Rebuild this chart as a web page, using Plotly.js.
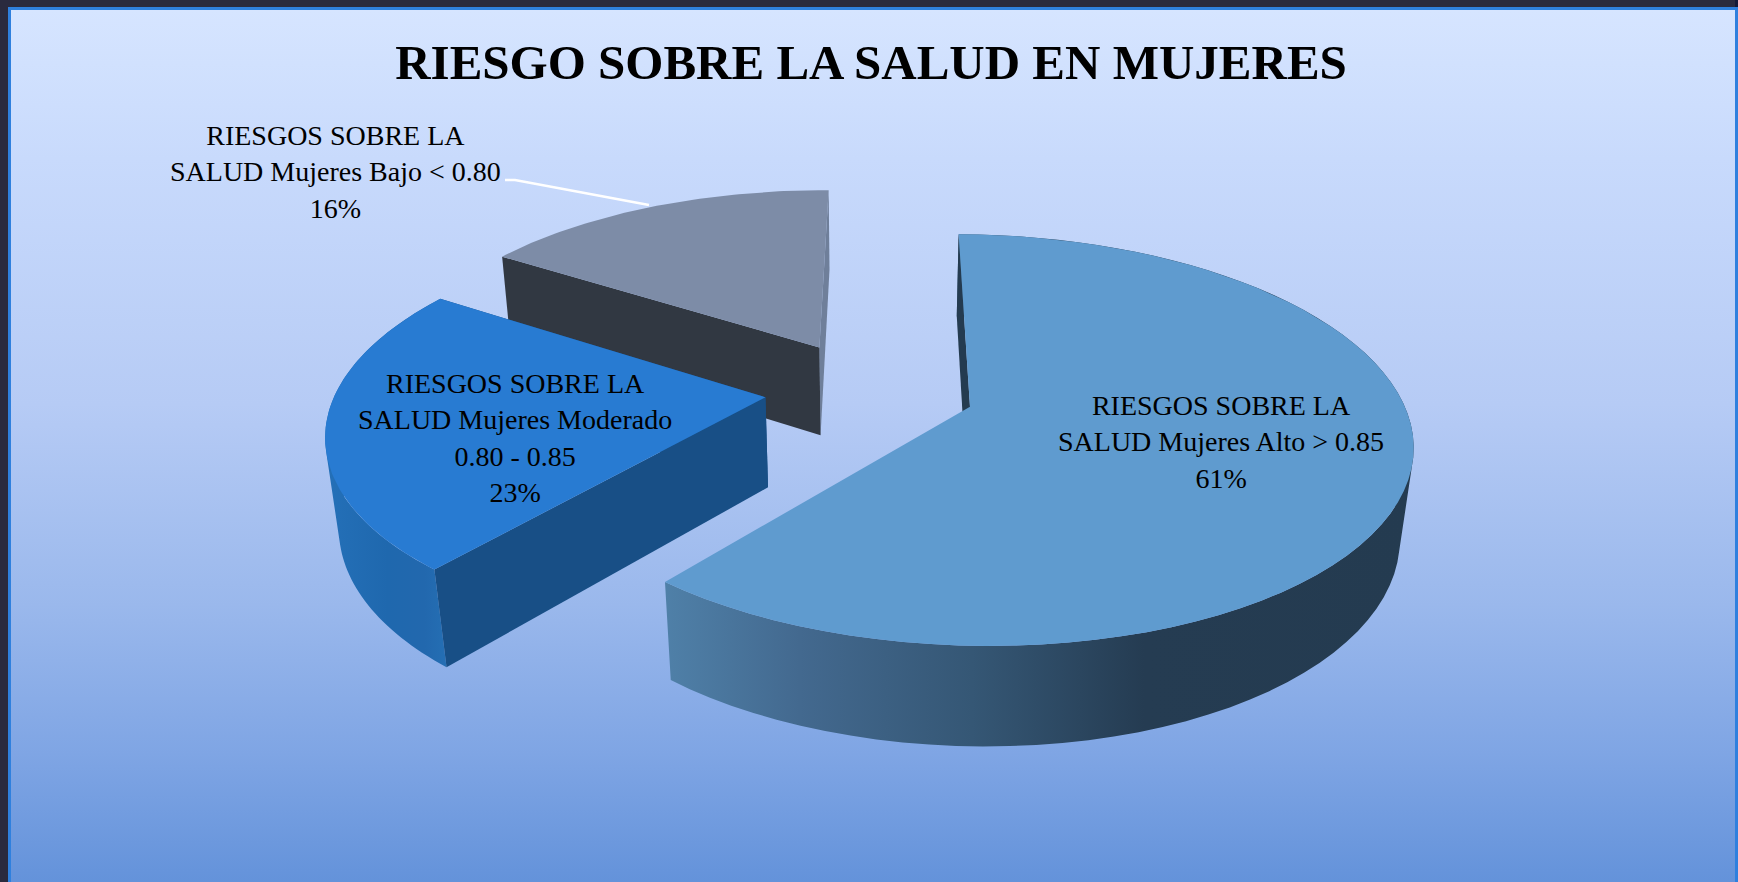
<!DOCTYPE html>
<html lang="es">
<head>
<meta charset="utf-8">
<title>RIESGO SOBRE LA SALUD EN MUJERES</title>
<script src="https://cdn.plot.ly/plotly-3.0.1.min.js"></script>
<style>
  html, body { margin: 0; padding: 0; width: 1738px; height: 882px; overflow: hidden; background: #2a2a3e; }
  #rightEdge { position: absolute; left: 1735px; top: 0; width: 3px; height: 882px; background: #141a38; }
  #panel { position: absolute; left: 8px; top: 7px; width: 1724px; height: 875px; border: 3px solid #2f80de; border-bottom: none; box-sizing: content-box;
    background: linear-gradient(to bottom, #d6e5ff 0%, #c8dafc 17%, #b6cbf5 45%, #9ab8ec 68%, #7fa5e4 85%, #6392da 100%); }
  #chart { position: absolute; left: 0; top: 0; width: 1738px; height: 882px; }
</style>
</head>
<body>
<div id="rightEdge"></div>
<div id="panel"></div>
<div id="chart"></div>
<script>
// ---- data ----
const chartTitle = "RIESGO SOBRE LA SALUD EN MUJERES";
const categories = [
  "RIESGOS SOBRE LA<br>SALUD Mujeres Alto > 0.85",
  "RIESGOS SOBRE LA<br>SALUD Mujeres Moderado<br>0.80 - 0.85",
  "RIESGOS SOBRE LA<br>SALUD Mujeres Bajo < 0.80"
];
const values = [61, 23, 16];

// ---- colours ----
const topColors = ["#5f9bcf", "#287bd2", "#7d8ca7"];
const startCutColors = ["#243b50", "#184f86", "#313842"];
const endCutColors = ["#243b50", "#184f86", "#6f7f9a"];
const bigWallStops = [[0, "#4f80a8"], [0.18, "#43698f"], [0.41, "#355775"], [0.64, "#253c52"], [1, "#243b50"]];
const midWallStops = [[0, "#2470b8"], [0.5, "#1f68ae"], [0.8, "#2268ae"], [1, "#2570b5"]];

// ---- view of the 3D pie ----
const view = { cx: 870, cy: 390, A: 429, B: 195, k: 0.16, q: 0.025, D: 92, first: 0.4 };
const explode = [0.245, 0.245, 0.257];

function project(u, v, bottom) {
  const inv = 1 - view.k * v + (bottom ? view.q : 0);
  const s = 1 / inv;
  return [view.cx + view.A * u * s, view.cy + (view.B * v + (bottom ? view.D : 0)) * s];
}

const total = values.reduce((a, b) => a + b, 0);
let cursor = view.first;
const slices = values.map((val, i) => {
  const a0 = cursor, a1 = cursor + val / total * 360;
  cursor = a1;
  const mid = (a0 + a1) / 2 * Math.PI / 180;
  return { a0, a1, ox: explode[i] * Math.sin(mid), oy: -explode[i] * Math.cos(mid) };
});

function rimPoint(sl, deg, bottom) {
  const t = deg * Math.PI / 180;
  return project(sl.ox + Math.sin(t), sl.oy - Math.cos(t), bottom);
}
function rim(sl, bottom) {
  const n = 72, out = [];
  for (let i = 0; i <= n; i++) out.push(rimPoint(sl, sl.a0 + (sl.a1 - sl.a0) * i / n, bottom));
  return out;
}
function apex(sl, bottom) { return project(sl.ox, sl.oy, bottom); }

function poly(points, name, color) {
  return {
    type: "scatter", mode: "lines", name,
    x: points.map(p => p[0]).concat(points[0][0]),
    y: points.map(p => p[1]).concat(points[0][1]),
    fill: "toself", fillcolor: color, line: { width: 0, color },
    hoverinfo: "name", showlegend: false
  };
}

// the outer wall is the sweep of the rim: one quad per rim step, all wound the same way
function wallTrace(top, bot, name, stops, start, stop) {
  const x = [], y = [];
  for (let j = 0; j < top.length - 1; j++) {
    let q = [top[j], top[j + 1], bot[j + 1], bot[j]];
    let area = 0;
    q.forEach((p, n) => { const r = q[(n + 1) % 4]; area += p[0] * r[1] - r[0] * p[1]; });
    if (area < 0) q = q.slice().reverse();
    q.concat([q[0]]).forEach(p => { x.push(p[0]); y.push(p[1]); });
    x.push(null); y.push(null);
  }
  return {
    type: "scatter", mode: "lines", name, x, y, connectgaps: false,
    fill: "toself", line: { width: 0, color: "rgba(0,0,0,0)" },
    fillgradient: { type: "horizontal", colorscale: stops, start, stop },
    hoverinfo: "name", showlegend: false
  };
}

function sliceTraces(i, wallStops) {
  const sl = slices[i], name = categories[i].replace(/<br>/g, " ");
  const top = rim(sl, false), bot = rim(sl, true);
  const out = [];
  const a0Top = rimPoint(sl, sl.a0, false), a0Bot = rimPoint(sl, sl.a0, true);
  const a1Top = rimPoint(sl, sl.a1, false), a1Bot = rimPoint(sl, sl.a1, true);
  // outer wall, then the two cut faces, then the top surface
  if (wallStops) {
    const xs = top.concat(bot).map(p => p[0]);
    out.push(wallTrace(top, bot, name, wallStops, Math.min(...xs),
      i === 0 ? Math.max(...xs) : Math.max(...bot.map(p => p[0]))));
  }
  if (i !== 0) out.push(poly([a1Top, apex(sl, false), apex(sl, true), a1Bot], name, endCutColors[i]));
  out.push(poly([a0Top, apex(sl, false), apex(sl, true), a0Bot], name, startCutColors[i]));
  out.push(poly([apex(sl, false)].concat(top), name, topColors[i]));
  return out;
}

// far slice first, nearest slice last
const traces = [].concat(
  sliceTraces(2, null),
  sliceTraces(1, midWallStops),
  sliceTraces(0, bigWallStops)
);

// leader line for the smallest slice
const leaderX = [505, 515, 649];
const leaderY = [180, 180, 205];
traces.push({ type: "scatter", mode: "lines", x: leaderX, y: leaderY, line: { color: "#ffffff", width: 2.5 }, hoverinfo: "skip", showlegend: false });

const pct = values.map(v => Math.round(v / total * 100) + "%");
const labelX = [1221, 515, 335];
const labelY = [442, 438, 172];
const annotations = categories.map((c, i) => ({
  xref: "x", yref: "y", x: labelX[i], y: labelY[i], text: c + "<br>" + pct[i],
  showarrow: false, align: "center", xanchor: "center", yanchor: "middle",
  font: { family: "'Liberation Serif', serif", size: 28, color: "#000000" }
}));

const layout = {
  width: 1738, height: 882,
  margin: { l: 0, r: 0, t: 0, b: 0 },
  paper_bgcolor: "rgba(0,0,0,0)", plot_bgcolor: "rgba(0,0,0,0)",
  title: { text: "<b>" + chartTitle + "</b>", x: 871 / 1738, xanchor: "center", y: 1 - 62 / 882, yanchor: "middle",
           font: { family: "'Liberation Serif', serif", size: 49, color: "#000000" } },
  xaxis: { visible: false, range: [0, 1738], fixedrange: true },
  yaxis: { visible: false, range: [882, 0], fixedrange: true },
  showlegend: false, hovermode: "closest",
  annotations
};

Plotly.newPlot("chart", traces, layout, { displayModeBar: false, responsive: false });
</script>
</body>
</html>
